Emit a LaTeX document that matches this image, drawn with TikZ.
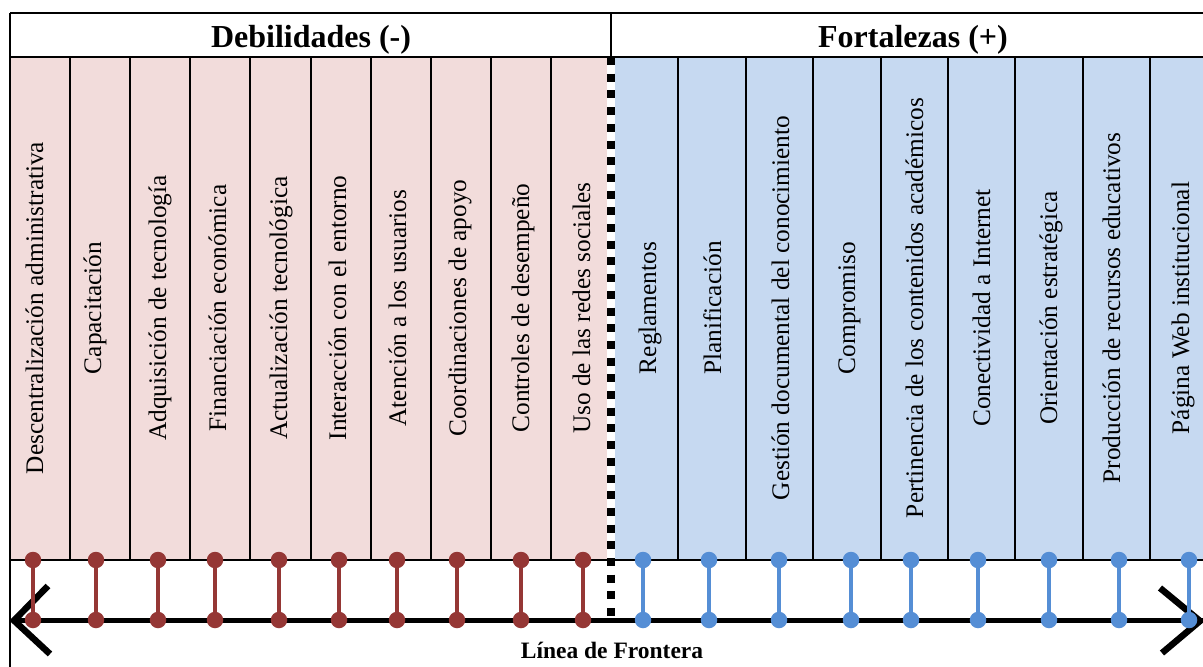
\documentclass[tikz,border=0pt]{standalone}
\usepackage{fontspec}
\setmainfont{Liberation Serif}
\definecolor{cellred}{RGB}{242,220,219}
\definecolor{cellblue}{RGB}{198,217,241}
\definecolor{dotred}{RGB}{149,55,53}
\definecolor{dotblue}{RGB}{85,142,213}
\begin{document}
\begin{tikzpicture}[x=1bp,y=-1bp,
  rule/.style={line width=2bp, black},
  coltext/.style={rotate=90, anchor=base, inner sep=0pt, font=\fontsize{25.3bp}{30bp}\selectfont},
  headtext/.style={anchor=base, inner sep=0pt, font=\fontsize{32bp}{38bp}\selectfont\bfseries},
  foottext/.style={anchor=base, inner sep=0pt, font=\fontsize{23.5bp}{28bp}\selectfont\bfseries},
  dotR/.style={circle, fill=dotred, inner sep=0pt, minimum size=16.5bp},
  dotB/.style={circle, fill=dotblue, inner sep=0pt, minimum size=16.5bp},
  linkR/.style={draw=dotred, line width=3.5bp},
  linkB/.style={draw=dotblue, line width=3.5bp},
  axisline/.style={line width=5.5bp},
  chevron/.style={line width=6.5bp, miter limit=10},
  divider/.style={line width=8bp, dash pattern=on 8bp off 8.7bp},
]
\useasboundingbox (0,0) rectangle (1203,667);

% cell backgrounds
\fill[cellred] (10,57) rectangle (607,560);
\fill[cellblue] (615,57) rectangle (1203,560);

% table rules
\draw[rule] (10,13) -- (1203,13);
\draw[rule] (10,57) -- (1203,57);
\draw[rule] (10,560) -- (1203,560);
\draw[rule] (10,13) -- (10,667);
\draw[rule] (611,13) -- (611,57);
\foreach \k in {1,...,9}
  \draw[rule] ({10+60.1*\k},57) -- ({10+60.1*\k},560);
\foreach \k in {1,...,8}
  \draw[rule] ({611+67.4*\k},57) -- ({611+67.4*\k},560);

% dotted divider between the two halves
\draw[divider] (611,57) -- (611,617);

% headers
\node[headtext] (hdeb) at (311,48) {Debilidades (-)};
\node[headtext] (hfor) at (913,48) {Fortalezas (+)};

% frontier axis
\coordinate (axL) at (12,620.5);
\coordinate (axR) at (1203,620.5);
\draw[axisline] (axL) -- (axR);
\coordinate (chL) at (14,620.5);
\coordinate (chR) at (1200,621);
\draw[chevron] (48,586) -- (chL) -- (50,654);
\draw[chevron] (1160,588) -- (chR) -- (1162,653);
\node[foottext] (front) at (612,658) {Línea de Frontera};

% weaknesses
\foreach \bx/\dx/\lab [count=\i] in {
  43/33/Descentralización administrativa,
  101/96/Capacitación,
  166/158/Adquisición de tecnología,
  226/215/Financiación económica,
  287/279/Actualización tecnológica,
  346/339/Interacción con el entorno,
  406/397/Atención a los usuarios,
  466/457/Coordinaciones de apoyo,
  529/521/Controles de desempeño,
  590/583/Uso de las redes sociales}{
  \node[coltext] (rtxt\i) at (\bx,308) {\lab};
  \node[dotR] (rt\i) at (\dx,560) {};
  \node[dotR] (rb\i) at (\dx,620) {};
  \draw[linkR] (rt\i) -- (rb\i);
}

% strengths
\foreach \bx/\dx/\lab [count=\i] in {
  656/643/Reglamentos,
  721/709/Planificación,
  789/779/Gestión documental del conocimiento,
  855/851/Compromiso,
  923/911/Pertinencia de los contenidos académicos,
  990/978/Conectividad a Internet,
  1057/1049/Orientación estratégica,
  1120/1119/Producción de recursos educativos,
  1189/1189/Página Web institucional}{
  \node[coltext] (btxt\i) at (\bx,308) {\lab};
  \node[dotB] (bt\i) at (\dx,560) {};
  \node[dotB] (bb\i) at (\dx,620) {};
  \draw[linkB] (bt\i) -- (bb\i);
}
\end{tikzpicture}
\end{document}
